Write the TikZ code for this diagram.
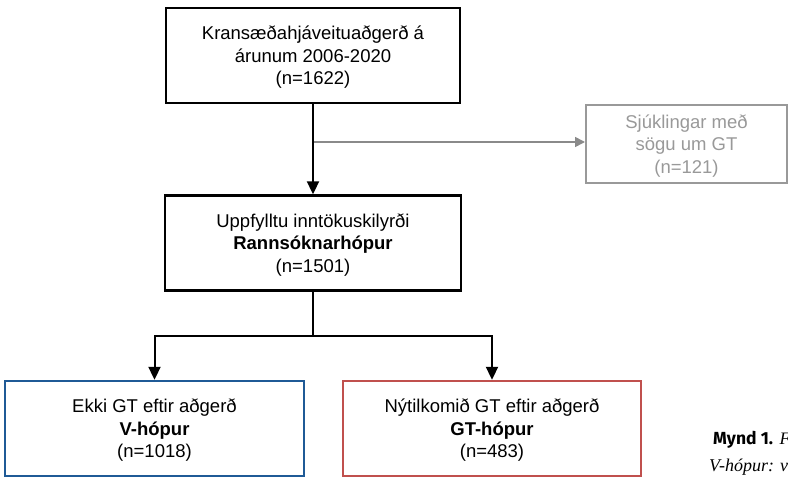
\documentclass[tikz,border=0pt]{standalone}
\usepackage{fontspec}
\setmainfont{Liberation Sans}
\newfontfamily\capsans{Fira Sans}
\newfontfamily\capserif{Liberation Serif}
\usetikzlibrary{arrows.meta}
\definecolor{boxblue}{HTML}{1F5A96}
\definecolor{boxred}{HTML}{C0504D}
\definecolor{grayline}{HTML}{8A8A8A}
\definecolor{graytext}{HTML}{999999}
\tikzset{
  flowbox/.style={draw, line width=2.4pt, minimum height=95pt, align=center,
    font=\fontsize{18.5}{22.5}\selectfont, inner sep=0pt, text depth=0pt},
  flowarrow/.style={line width=2pt, -{Triangle[width=12pt,length=13pt]}},
  greyarrow/.style={draw=grayline, line width=1.6pt, -{Triangle[width=10pt,length=10pt]}, color=grayline},
}
\begin{document}
\begin{tikzpicture}[x=1pt,y=-1pt]
\useasboundingbox (0,0) rectangle (788,477);
\begin{scope}
\clip (0,0) rectangle (788,477);
\node[flowbox, minimum width=294pt] (top) at (313,55.5)
  {Kransæðahjáveituaðgerð á\\árunum 2006-2020\\(n=1622)};
\node[flowbox, minimum width=296pt] (mid) at (313,243)
  {Uppfylltu inntökuskilyrði\\\textbf{Rannsóknarhópur}\\(n=1501)};
\node[flowbox, draw=graytext, line width=2pt, text=graytext, minimum width=201pt, minimum height=78pt] (excl) at (686.5,144)
  {Sjúklingar með\\sögu um GT\\(n=121)};
\node[flowbox, draw=boxblue, minimum width=299pt] (vgrp) at (154.5,428.5)
  {Ekki GT eftir aðgerð\\\textbf{V-hópur}\\(n=1018)};
\node[flowbox, draw=boxred, minimum width=298pt] (gtgrp) at (492,428.5)
  {Nýtilkomið GT eftir aðgerð\\\textbf{GT-hópur}\\(n=483)};
\coordinate (split) at (313,336);
\coordinate (branch) at (313,142);
\draw[greyarrow] (branch) -- (branch -| excl.west);
\draw[flowarrow] (top.south) -- (mid.north);
\draw[line width=2pt] (mid.south) -- (split);
\draw[flowarrow] (split) -| (vgrp.north);
\draw[flowarrow] (split) -| (gtgrp.north);
\node[anchor=base west, inner sep=0pt, font=\fontsize{17.5}{20}\selectfont] (cap1) at (713,444)
  {{\capsans\bfseries Mynd 1.} {\capserif\itshape Flæðirit}};
\node[anchor=base west, inner sep=0pt, font=\fontsize{18}{20}\selectfont\capserif\itshape] (cap2) at (709,471)
  {V-hópur: viðmið};
\end{scope}
\end{tikzpicture}
\end{document}
